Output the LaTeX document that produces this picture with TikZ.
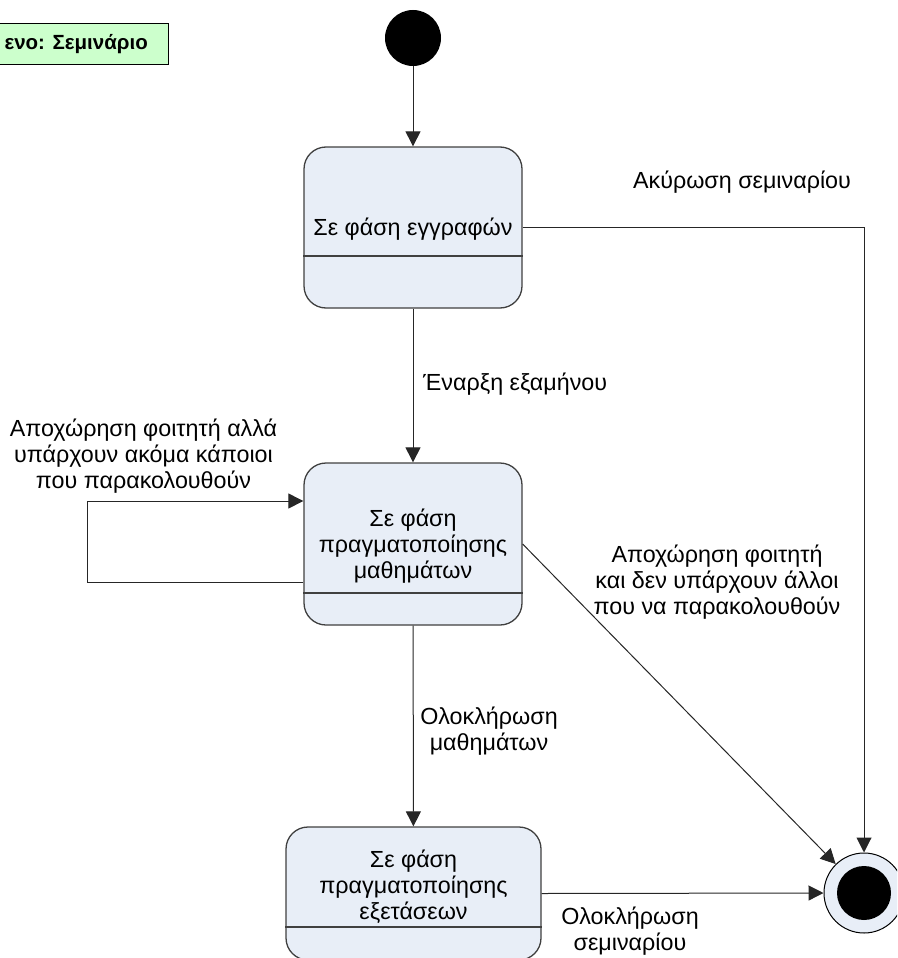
\documentclass[tikz,border=0pt]{standalone}
\usepackage{fontspec}
\setmainfont{Liberation Sans}
\usetikzlibrary{arrows.meta}
\definecolor{boxfill}{HTML}{E8EEF7}
\definecolor{boxline}{HTML}{404040}
\definecolor{notefill}{HTML}{CCFFCC}
\tikzset{
  statebox/.style={draw=boxline, line width=1.3pt, fill=boxfill, rounded corners=22pt, inner sep=0pt},
  divider/.style={draw=boxline, line width=1.3pt},
  txt/.style={font=\fontsize{23.3}{26}\selectfont, align=center, inner sep=0pt},
  arr/.style={draw=black!85, line width=1pt, -{Triangle[length=15pt,width=15pt]}},
}
\begin{document}
\begin{tikzpicture}[x=1pt,y=-1pt]
\useasboundingbox (0,0) rectangle (897,958);
\clip (0,0) rectangle (897,958);
% note box
\node[draw=black, line width=1pt, fill=notefill, minimum width=200pt, minimum height=41pt, inner sep=0pt] (note) at (68,44.5) {};
\node[font=\fontsize{20.5}{24}\selectfont\bfseries, anchor=east, inner sep=0pt] (notetxt) at (148,44.5) {ενο: Σεμινάριο};
% initial
\node[circle, fill=black, minimum size=56pt, inner sep=0pt] (init) at (413,38) {};
% state 1
\node[statebox, minimum width=218pt, minimum height=161pt] (s1) at (413,227.5) {};
\node[txt] (t1) at (413,229) {Σε φάση εγγραφών};
\draw[divider] (s1.west |- 0,256) -- (s1.east |- 0,256);
% state 2
\node[statebox, minimum width=218pt, minimum height=162pt] (s2) at (413,544) {};
\node[txt] (t2) at (413,546) {Σε φάση\\πραγματοποίησης\\μαθημάτων};
\draw[divider] (s2.west |- 0,593) -- (s2.east |- 0,593);
% state 3
\node[statebox, minimum width=255pt, minimum height=133pt] (s3) at (413.5,893.5) {};
\node[txt] (t3) at (413.5,887) {Σε φάση\\πραγματοποίησης\\εξετάσεων};
\draw[divider] (s3.west |- 0,927) -- (s3.east |- 0,927);
% final
\node[circle, draw=black, line width=1pt, fill=boxfill, minimum size=80pt, inner sep=0pt] (fin) at (864,893) {};
\node[circle, fill=black, minimum size=54pt, inner sep=0pt] (finin) at (fin) {};
% connectors
\draw[arr] (init) -- (s1);
\draw[arr] (s1.east) -| (fin.north);
\draw[arr] (s1) -- (s2);
\coordinate (l1) at (87,582);
\coordinate (l2) at (87,501);
\draw[arr] (s2.west |- l1) -- (l1) -- (l2) -- (s2.west |- l2);
\draw[arr] (s2.east) -- (fin);
\draw[arr] (s2) -- (s3);
\draw[arr] (s3.east) -- (fin.west);
% labels
\node[txt] (lab1) at (742,182) {Ακύρωση σεμιναρίου};
\node[txt, anchor=west] (lab2) at (423,384) {Έναρξη εξαμήνου};
\node[txt] (lab3) at (143.5,456) {Αποχώρηση φοιτητή αλλά\\υπάρχουν ακόμα κάποιοι\\που παρακολουθούν};
\node[txt] (lab4) at (717,582) {Αποχώρηση φοιτητή\\και δεν υπάρχουν άλλοι\\που να παρακολουθούν};
\node[txt] (lab5) at (489,731) {Ολοκλήρωση\\μαθημάτων};
\node[txt] (lab6) at (630,931) {Ολοκλήρωση\\σεμιναρίου};
\end{tikzpicture}
\end{document}
